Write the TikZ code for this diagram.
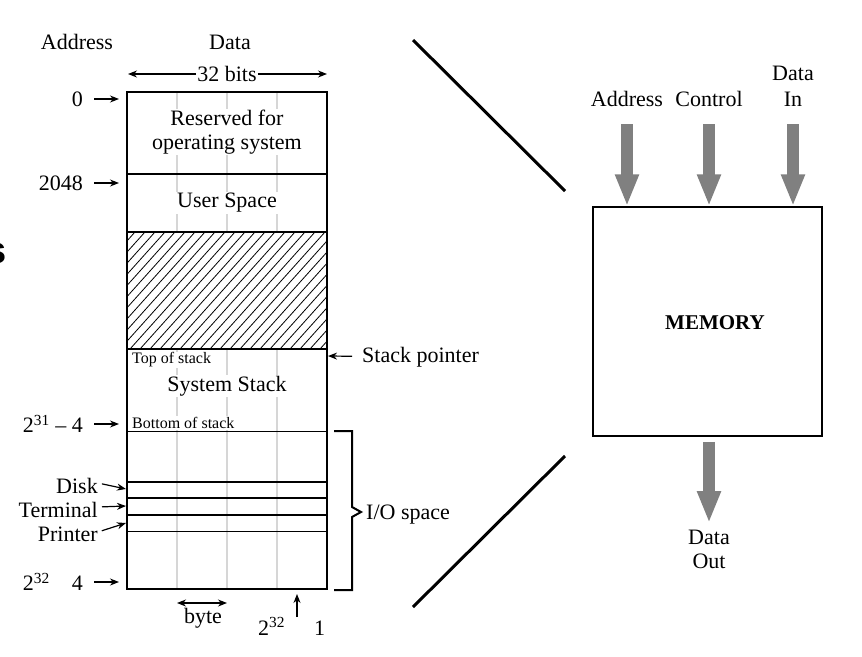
\documentclass[tikz,border=0pt]{standalone}
\usepackage{fontspec}
\setmainfont{Liberation Serif}
\setsansfont{Liberation Sans}
\usetikzlibrary{arrows.meta}
\newcommand{\pw}[1]{2\textsuperscript{#1}}

\begin{document}
\begin{tikzpicture}[x=1pt,y=-1pt,
  every node/.style={font=\fontsize{22}{24}\selectfont},
  small/.style={font=\fontsize{16}{18}\selectfont},
  lbl/.style={fill=white,inner sep=1pt},
  addr/.style={anchor=east,inner sep=0pt},
  ptr/.style={-{Stealth[length=9pt,width=7pt]},line width=1.2pt},
  dptr/.style={{Stealth[length=9pt,width=7pt]}-{Stealth[length=9pt,width=7pt]},line width=1.2pt},
  sep/.style={line width=2pt},
  fat/.style={gray,line width=12pt,-{Triangle[length=32pt,width=22pt]}}]
\useasboundingbox (0,0) rectangle (862,656);
% byte columns
\foreach \x in {177,227,277} \draw[black!16,line width=1.5pt] (\x,92) -- (\x,589);

\node (addr) at (77,42) {Address};
\node (data) at (230,42) {Data};
\coordinate (bl) at (128,74);
\coordinate (br) at (327,74);
\node[lbl] (bits) at (227,74) {32 bits};
\draw[ptr] (bits) -- (bl);
\draw[ptr] (bits) -- (br);

\node[lbl,align=center] (os) at (227,132) {Reserved for\\operating system};
\node[lbl] (user) at (227,203) {User Space};
\node[lbl,small,anchor=west] (tos) at (131,360) {Top of stack};
\node[lbl] (sys) at (227,386) {System Stack};
\node[lbl,small,anchor=west] (bos) at (131,423) {Bottom of stack};

% free area
\fill[white] (127,232) rectangle (327,349);
\begin{scope}
\clip (127,232) rectangle (327,349);
\foreach \i in {20,30,...,330} \draw[line width=0.8pt] (\i,349) -- ++(105,-117);
\end{scope}
\foreach \y in {174,232,349,482,498,515} \draw[sep] (127,\y) -- (327,\y);
\foreach \y in {431,531} \draw[line width=1pt] (127,\y) -- (327,\y);
\draw[line width=1.5pt] (127,92) rectangle (327,589);

% addresses
\node[addr] (a0) at (83,99) {0};
\node[addr] (a2048) at (83,183) {2048};
\node[addr] (a31) at (83,424) {\pw{31} – 4};
\node[addr] (a32) at (83,582) {\pw{32}\quad 4};
\coordinate (p0) at (119,99);
\coordinate (p2048) at (119,183);
\coordinate (p31) at (119,424);
\coordinate (p32) at (119,582);
\draw[ptr,shorten <=11pt] (a0) -- (p0);
\draw[ptr,shorten <=11pt] (a2048) -- (p2048);
\draw[ptr,shorten <=11pt] (a31) -- (p31);
\draw[ptr,shorten <=11pt] (a32) -- (p32);

\node[addr] (disk) at (98,486) {Disk};
\node[addr] (term) at (98,510) {Terminal};
\node[addr] (prn) at (98,534) {Printer};
\coordinate (pd) at (126,489);
\coordinate (pt) at (126,506);
\coordinate (pp) at (126,523);
\draw[ptr,shorten <=4pt] ([yshift=3pt]disk.east) -- (pd);
\draw[ptr,shorten <=4pt] ([yshift=3pt]term.east) -- (pt);
\draw[ptr,shorten <=4pt] ([yshift=2pt]prn.east) -- (pp);

\node[anchor=west,inner sep=0pt] (sp) at (362,357) {Stack pointer};
\coordinate (psp) at (328,356);
\draw[ptr,shorten <=10pt] (sp) -- (psp);

\draw[line width=2pt] (334,431) -- (352,431) -- (352,507) -- (361,512) -- (352,517) -- (352,590) -- (334,590);
\node[anchor=west,inner sep=0pt] (io) at (366,515) {I/O space};

\coordinate (b1) at (177,603);
\coordinate (b2) at (227,603);
\draw[dptr] (b1) -- (b2);
\node (byte) at (203,618) {byte};
\node[anchor=base west,inner sep=0pt] (last) at (258,635) {\pw{32}\hspace{29pt}1};
\coordinate (pl) at (297,594);
\draw[ptr] (pl |- last.north) -- (pl);

% zoom lines
\draw[line width=3pt] (413,40) -- (565,191);
\draw[line width=3pt] (413,607) -- (565,456);

% memory block
\node[draw,line width=1.5pt,minimum width=229pt,minimum height=229pt,inner sep=0pt] (mem) at (707.5,321.5) {};
\node[font=\fontsize{21}{24}\selectfont\bfseries] (memt) at (715,323) {MEMORY};
\node[anchor=south,inner sep=0pt] (iad) at (627,107) {Address};
\node[anchor=south,inner sep=0pt] (ictl) at (709,107) {Control};
\node[anchor=south,inner sep=0pt,align=center] (idin) at (793,107) {Data\\[2pt]In};
\draw[fat,shorten <=17pt] (iad) -- (iad |- mem.north);
\draw[fat,shorten <=17pt] (ictl) -- (ictl |- mem.north);
\draw[fat,shorten <=17pt] (idin) -- (idin |- mem.north);
\node[anchor=north,inner sep=0pt,align=center] (dout) at (709,530) {Data\\Out};
\draw[fat,shorten <=5pt,shorten >=7pt] (mem.south -| dout) -- (dout);

\node[font=\sffamily\bfseries\fontsize{38}{40}\selectfont,anchor=base east,inner sep=0pt] (cut) at (7,263) {s};
\end{tikzpicture}
\end{document}
